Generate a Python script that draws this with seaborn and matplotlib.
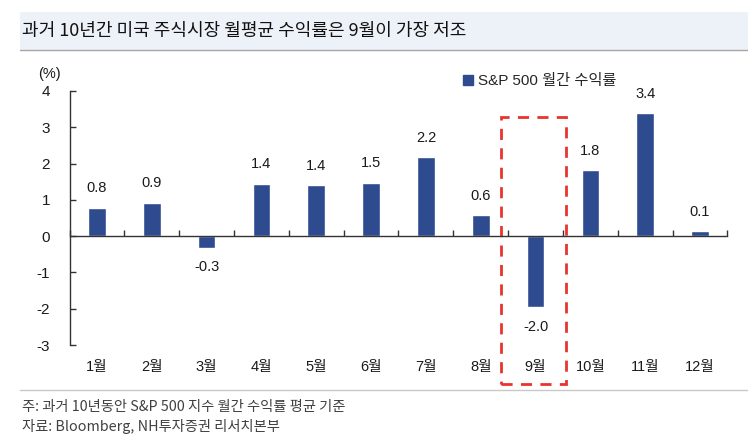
import numpy as np
import pandas as pd
import matplotlib
matplotlib.use("Agg")
import matplotlib.pyplot as plt
from matplotlib.patches import Rectangle
from matplotlib.lines import Line2D
import seaborn as sns

# ---------- Data ----------
MONTHS = ["1월", "2월", "3월", "4월", "5월", "6월", "7월", "8월", "9월", "10월", "11월", "12월"]
RETURNS = [0.78, 0.92, -0.32, 1.44, 1.40, 1.47, 2.17, 0.58, -1.96, 1.82, 3.38, 0.13]
Y_TICKS = [-3, -2, -1, 0, 1, 2, 3, 4]
HIGHLIGHT = "9월"

TITLE = "과거 10년간 미국 주식시장 월평균 수익률은 9월이 가장 저조"
LEGEND = "S&P 500 월간 수익률"
NOTE = "주: 과거 10년동안 S&P 500 지수 월간 수익률 평균 기준"
SOURCE = "자료: Bloomberg, NH투자증권 리서치본부"

BAR_COLOR = "#2D4B8E"
TEXT_COLOR = "#1a1a1a"
CJK = ["Noto Sans CJK KR", "DejaVu Sans"]

sns.set_theme(style="white")
plt.rcParams["font.family"] = ["Liberation Sans", "Noto Sans CJK KR"]

df = pd.DataFrame({"month": MONTHS, "ret": RETURNS})

fig = plt.figure(figsize=(7.48, 4.36), dpi=100)
ax = fig.add_axes([0.093, 0.2087, 0.8795, 0.5826])

sns.barplot(data=df, x="month", y="ret", color=BAR_COLOR, width=0.32,
            saturation=1, ax=ax)

ax.set_ylim(-3, 4)
ax.set_xlim(-0.5, len(MONTHS) - 0.5)
ax.set_yticks(Y_TICKS)
ax.set_yticklabels([str(t) for t in Y_TICKS], fontsize=11, color=TEXT_COLOR)
ax.set_xlabel("")
ax.set_ylabel("")

for s in ["top", "right"]:
    ax.spines[s].set_visible(False)
ax.spines["left"].set_color("#333333")
ax.spines["left"].set_linewidth(1)
ax.spines["bottom"].set_position(("data", 0))
ax.spines["bottom"].set_color("#333333")
ax.spines["bottom"].set_linewidth(1)

ax.tick_params(axis="y", direction="in", length=4, width=1, color="#333333",
               left=True, pad=14)
# boundary ticks on the zero line
ax.set_xticks(np.arange(len(MONTHS) + 1) - 0.5, minor=True)
ax.tick_params(axis="x", which="minor", direction="in", length=4, width=1,
               color="#333333", bottom=True)
ax.tick_params(axis="x", which="major", length=0, labelbottom=False)

# month labels under the plot area
sec = ax.secondary_xaxis("bottom")
sec.set_xticks(range(len(MONTHS)))
sec.set_xticklabels(MONTHS, fontsize=10.5, color=TEXT_COLOR)
sec.tick_params(length=0, pad=11)
sec.spines["bottom"].set_visible(False)

# value labels
for i, v in enumerate(RETURNS):
    off = 9 if v >= 0 else -9
    ax.annotate(f"{v:.1f}", (i, v), xytext=(0, off), textcoords="offset points",
                ha="center", va="bottom" if v >= 0 else "top",
                fontsize=10.5, color=TEXT_COLOR)

# highlight box around September
hi = MONTHS.index(HIGHLIGHT)
ax.add_patch(Rectangle((hi - 0.63, -4.08), 1.19, 7.36, fill=False,
                       edgecolor="#E8332E", linestyle=(0, (4, 3)), linewidth=2,
                       clip_on=False))

# unit label
ax.text(-0.03, 1.04, "(%)", transform=ax.transAxes, fontsize=10.5,
        color=TEXT_COLOR, ha="center", va="bottom")

# legend
handle = Line2D([], [], marker="s", color="none", markerfacecolor=BAR_COLOR,
                markeredgecolor=BAR_COLOR, markersize=7)
ax.legend([handle], [LEGEND], loc="upper left", bbox_to_anchor=(0.59, 1.09),
          frameon=False, fontsize=11, handlelength=0.6, handletextpad=0.3,
          borderaxespad=0)

# title band
fig.patches.append(Rectangle((20 / 748, 1 - 50 / 436), 1 - 20 / 748, 38 / 436,
                             transform=fig.transFigure, facecolor="#EDF1F8",
                             edgecolor="none", zorder=0))
fig.lines.append(Line2D([20 / 748, 1], [1 - 50 / 436] * 2, transform=fig.transFigure,
                        color="#A6A6A6", linewidth=1))
fig.text(22 / 748, 1 - 31 / 436, TITLE, fontsize=13, color="#111111",
         va="center", ha="left", family=CJK)

# footer
fig.lines.append(Line2D([20 / 748, 1], [1 - 390 / 436] * 2, transform=fig.transFigure,
                        color="#C8C8C8", linewidth=1))
fig.text(22 / 748, 1 - 407 / 436, NOTE, fontsize=10.3, color="#404040",
         va="center", ha="left", family=CJK)
fig.text(22 / 748, 1 - 426 / 436, SOURCE, fontsize=10.3, color="#404040",
         va="center", ha="left", family=CJK)

fig.savefig("out.png", dpi=100)
